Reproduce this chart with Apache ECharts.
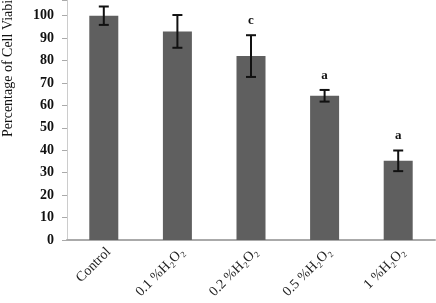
<!DOCTYPE html>
<html><head><meta charset="utf-8">
<script src="https://cdn.jsdelivr.net/npm/echarts@6/dist/echarts.min.js"></script>
<style>html,body{margin:0;padding:0;background:#fff}#c{width:436px;height:303px}</style>
</head><body><div id="c"></div>
<script>
const categories = ['Control', '0.1 %H₂O₂', '0.2 %H₂O₂', '0.5 %H₂O₂', '1 %H₂O₂'];
const values = [100, 93, 82, 64.3, 35.3];
const errors = [4.1, 7.3, 9.3, 2.6, 4.6];
const letters = ['', '', 'c', 'a', 'a'];
const yTicks = [0, 10, 20, 30, 40, 50, 60, 70, 80, 90, 100];

const chart = echarts.init(document.getElementById('c'));
const serif = '"Liberation Serif", "DejaVu Serif", serif';
chart.setOption({
  animation: false,
  grid: {left: 67, right: 1, top: 0, bottom: 63},
  xAxis: {
    type: 'category', data: categories,
    axisLine: {lineStyle: {color: '#aaa', width: 2}},
    axisTick: {show: false},
    axisLabel: {rotate: 45, fontFamily: serif, fontSize: 14, color: '#222', margin: 5, interval: 0, verticalAlign: 'top'}
  },
  yAxis: {
    type: 'value', min: 0, max: 107, interval: 10,
    splitLine: {show: false},
    axisLine: {show: true, lineStyle: {color: '#ccc', width: 1}},
    axisTick: {show: true, length: 5, lineStyle: {color: '#aaa'}},
    axisLabel: {
      fontFamily: serif, fontSize: 14, fontWeight: 'bold', color: '#111', margin: 13,
      formatter: v => yTicks.indexOf(v) >= 0 ? String(v) : ''
    }
  },
  series: [
    {type: 'bar', data: values, barWidth: 29, itemStyle: {color: '#5f5f5f'}},
    {
      type: 'custom', z: 5,
      data: values.map((v, i) => [i, v, errors[i], letters[i]]),
      renderItem: (params, api) => {
        const x = api.coord([api.value(0), 0])[0];
        const v = api.value(1), e = api.value(2);
        const top = api.coord([api.value(0), v + e])[1];
        const bot = api.coord([api.value(0), v - e])[1];
        const st = {stroke: '#111', lineWidth: 2};
        const children = [
          {type: 'line', shape: {x1: x, y1: top, x2: x, y2: bot}, style: st},
          {type: 'line', shape: {x1: x - 5, y1: top, x2: x + 5, y2: top}, style: st},
          {type: 'line', shape: {x1: x - 5, y1: bot, x2: x + 5, y2: bot}, style: st}
        ];
        const letter = letters[params.dataIndex];
        if (letter) {
          children.push({type: 'text', x: x, y: top - 8,
            style: {text: letter, font: 'bold 13px ' + serif, fill: '#111', textAlign: 'center', textVerticalAlign: 'bottom'}});
        }
        return {type: 'group', children};
      }
    }
  ],
  graphic: [{
    type: 'text', x: 1, y: 137, rotation: Math.PI / 2,
    style: {text: 'Percentage of Cell Viability', font: '14px ' + serif, fill: '#111', textAlign: 'left', textVerticalAlign: 'top'}
  }]
});
</script></body></html>
